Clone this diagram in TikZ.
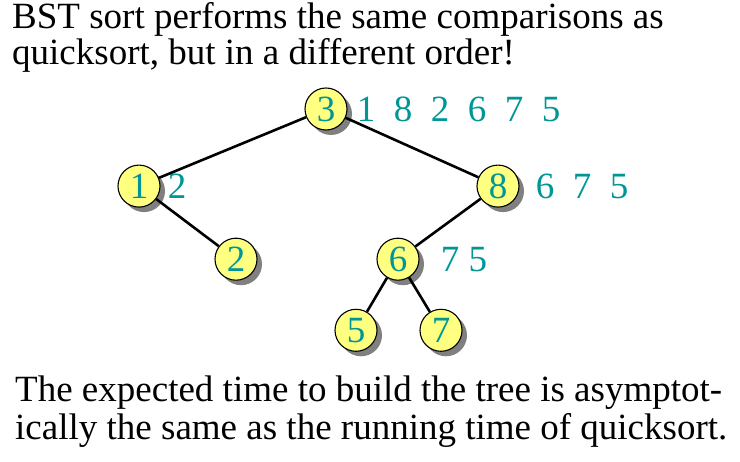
\documentclass[tikz,border=0pt]{standalone}
\usepackage{fontspec}
\setmainfont{Liberation Serif}
\usetikzlibrary{positioning,shadows}
\definecolor{keyteal}{RGB}{0,150,150}
\definecolor{keyyellow}{RGB}{255,255,128}

\begin{document}
\begin{tikzpicture}[x=1pt,y=1pt,-,
  key/.style={circle,draw=black,line width=1.1pt,fill=keyyellow,minimum size=42pt,inner sep=0pt,
    text=keyteal,font=\fontsize{37}{37}\selectfont,
    drop shadow={shadow xshift=5pt,shadow yshift=-5pt,fill=black!50,opacity=1}},
  rest/.style={inner sep=0pt,text=keyteal,font=\fontsize{37}{37}\selectfont},
  line/.style={inner sep=0pt,anchor=base west,font=\fontsize{37}{37}\selectfont},
  branch/.style={line width=2.6pt}]

  \useasboundingbox (0,0) rectangle (740,462);

  % text above and below the tree
  \node [line] (t1) at (12,433) {BST sort performs the same comparisons as};
  \node [line] (t2) at (12,397) {quicksort, but in a different order!};
  \node [line] (b1) at (15,60) {The expected time to build the tree is asymptot-};
  \node [line] (b2) at (15,22) {ically the same as the running time of quicksort.};

  % the tree
  \node [key] (n3) at (326,353) {3};
  \node [key,below=34pt of n3,xshift=-187pt] (n1) {1};
  \node [key,below=34pt of n3,xshift=172pt] (n8) {8};
  \node [key,below=30pt of n1,xshift=97pt] (n2) {2};
  \node [key,below=30pt of n8,xshift=-100pt] (n6) {6};
  \node [key,below=28pt of n6,xshift=-42pt] (n5) {5};
  \node [key,below=28pt of n6,xshift=43pt] (n7) {7};

  % keys still to be inserted below each node
  \node [rest,right=9pt of n3] (r3) {1\enspace 8\enspace 2\enspace 6\enspace 7\enspace 5};
  \node [rest,right=7pt of n1] (r1) {2};
  \node [rest,right=16pt of n8] (r8) {6\enspace 7\enspace 5};
  \node [rest,right=21pt of n6] (r6) {7 5};

  \draw [branch] (n3) -- (n1);
  \draw [branch] (n3) -- (n8);
  \draw [branch] (n1) -- (n2);
  \draw [branch] (n8) -- (n6);
  \draw [branch] (n6) -- (n5);
  \draw [branch] (n6) -- (n7);

\end{tikzpicture}
\end{document}
